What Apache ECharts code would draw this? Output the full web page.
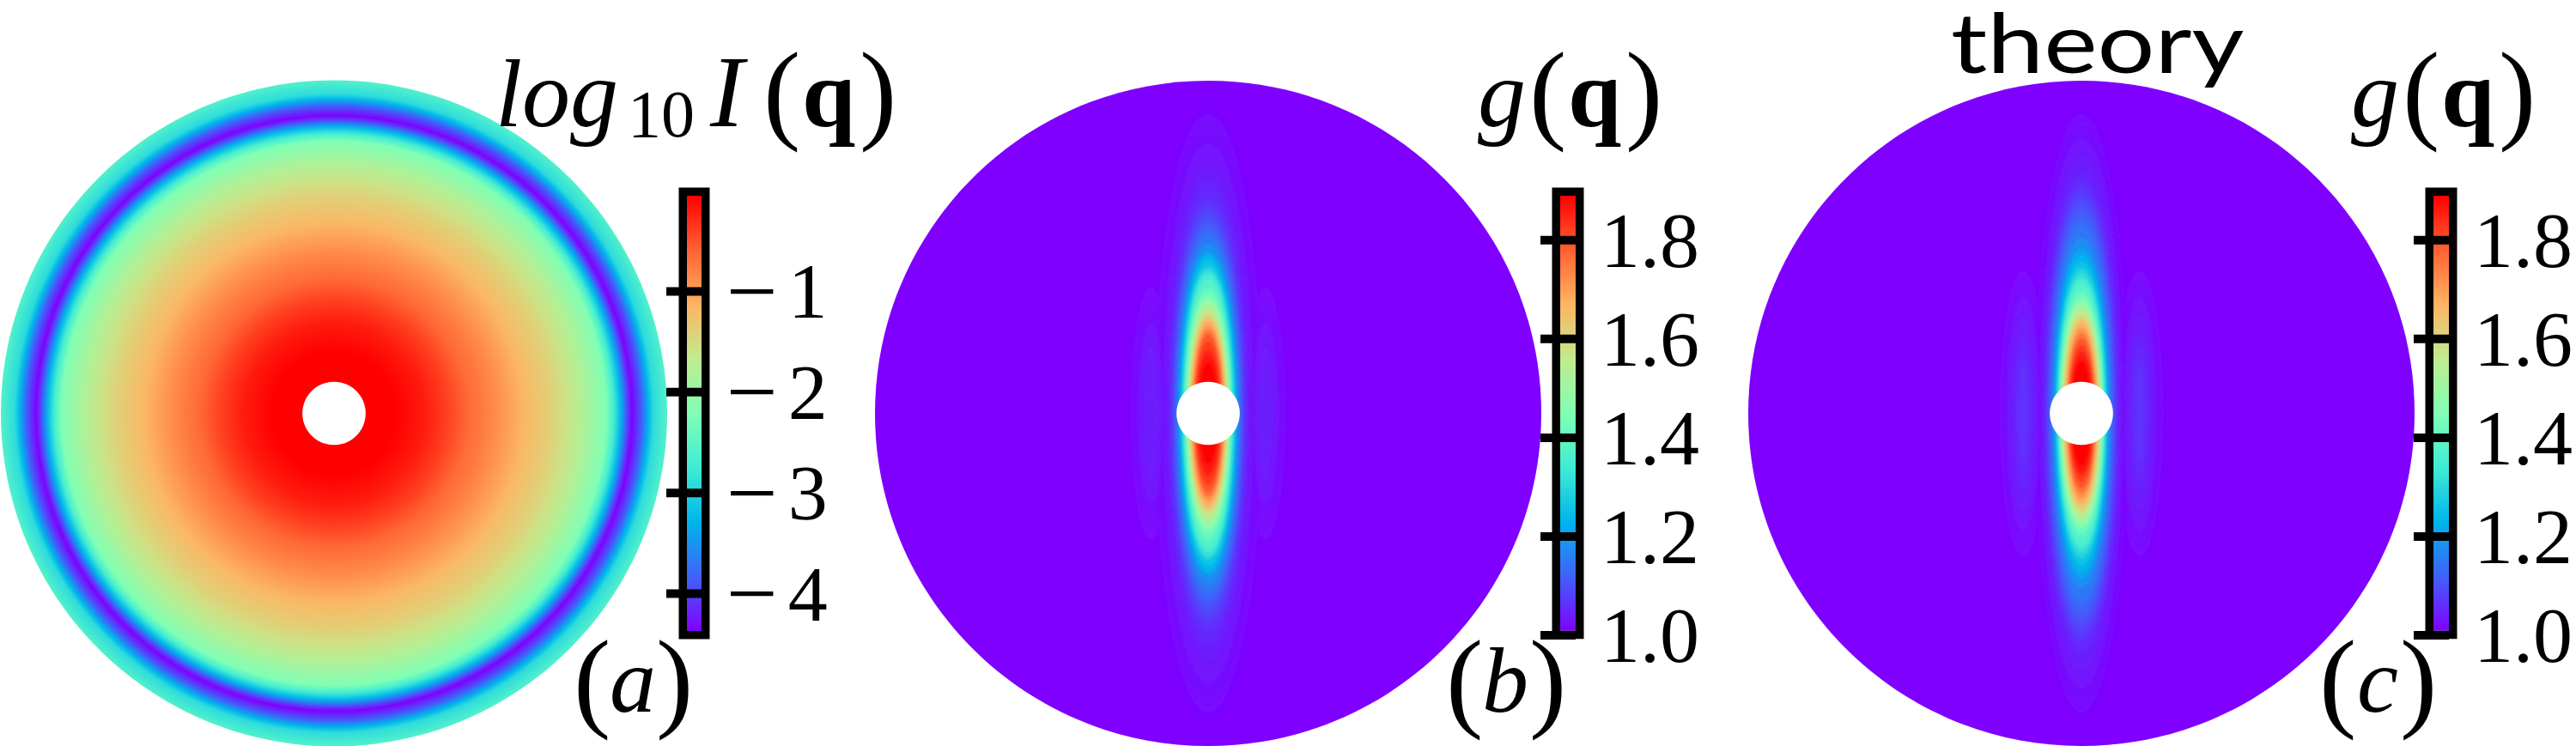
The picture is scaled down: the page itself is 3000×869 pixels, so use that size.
<!DOCTYPE html>
<html>
<head>
<meta charset="utf-8">
<script src="https://cdn.jsdelivr.net/npm/echarts@6/dist/echarts.min.js"></script>
<style>
  html, body { margin: 0; background: #fff; }
  #chart { width: 3000px; height: 869px; }
</style>
</head>
<body>
<div id="chart"></div>
<script>
// matplotlib rainbow
const rainbowStops = ['#8000ff', '#4062fa', '#00b4ec', '#40ecd4', '#80ffb4', '#c0ec8e', '#ffb462', '#ff6232', '#ff0000']

// panel (a): radial profile, q in units of the disc radius
const intensityQ = [0.095, 0.186, 0.271, 0.340, 0.399, 0.442, 0.487, 0.572, 0.649, 0.693, 0.745, 0.789, 0.817, 0.840, 0.861, 0.874, 0.894, 0.923, 0.943, 0.959, 1.000]
const intensityLog = [-0.05, -0.05, -0.20, -0.40, -0.62, -0.74, -0.87, -1.17, -1.39, -1.55, -1.78, -2.05, -2.21, -2.73, -3.29, -3.77, -4.37, -3.85, -3.29, -2.90, -2.60]

// panel (b): iso-g contours of the central streak (simulation)
const simG = [1.004, 1.007, 1.01, 1.0125, 1.015, 1.0175, 1.02, 1.025, 1.03, 1.035, 1.04, 1.045, 1.05, 1.06, 1.07, 1.08, 1.09, 1.10, 1.11, 1.125, 1.14, 1.17, 1.20, 1.225, 1.25, 1.28, 1.31, 1.34, 1.37, 1.41, 1.445, 1.475, 1.50, 1.53, 1.56, 1.59, 1.62, 1.65, 1.675, 1.71, 1.75, 1.79, 1.82, 1.85, 1.87, 1.89]
const simHalfWidth = [0.178, 0.168, 0.160, 0.150, 0.142, 0.138, 0.135, 0.130, 0.124, 0.120, 0.117, 0.114, 0.111, 0.107, 0.104, 0.101, 0.099, 0.097, 0.095, 0.093, 0.091, 0.087, 0.083, 0.080, 0.078, 0.075, 0.072, 0.070, 0.068, 0.065, 0.062, 0.060, 0.059, 0.056, 0.054, 0.052, 0.050, 0.048, 0.046, 0.044, 0.041, 0.039, 0.036, 0.032, 0.029, 0.026]
const simHalfHeight = [0.940, 0.920, 0.900, 0.875, 0.851, 0.830, 0.810, 0.770, 0.737, 0.718, 0.700, 0.680, 0.662, 0.640, 0.620, 0.605, 0.590, 0.575, 0.562, 0.548, 0.535, 0.510, 0.485, 0.474, 0.460, 0.440, 0.430, 0.418, 0.400, 0.375, 0.351, 0.342, 0.333, 0.322, 0.312, 0.300, 0.290, 0.282, 0.276, 0.262, 0.250, 0.237, 0.215, 0.190, 0.170, 0.149]
// faint side lobes of (b)
const simLobeG = [1.004, 1.008, 1.012, 1.016, 1.02, 1.025, 1.03, 1.035]
const simLobeOffset = [0.172, 0.172, 0.172, 0.172, 0.172, 0.172, 0.172, 0.172]
const simLobeHalfWidth = [0.070, 0.060, 0.052, 0.044, 0.038, 0.032, 0.024, 0.016]
const simLobeHalfHeight = [0.42, 0.38, 0.34, 0.30, 0.27, 0.24, 0.20, 0.15]

// panel (c): same contours for the theory
const theoryG = [1.004, 1.007, 1.01, 1.0125, 1.015, 1.0175, 1.02, 1.025, 1.03, 1.035, 1.04, 1.045, 1.05, 1.06, 1.07, 1.08, 1.09, 1.10, 1.11, 1.125, 1.14, 1.17, 1.20, 1.225, 1.25, 1.28, 1.31, 1.34, 1.37, 1.41, 1.445, 1.475, 1.50, 1.53, 1.56, 1.59, 1.62, 1.65, 1.675, 1.71, 1.75, 1.79, 1.82, 1.85, 1.87, 1.89]
const theoryHalfWidth = [0.155, 0.147, 0.140, 0.135, 0.130, 0.127, 0.124, 0.120, 0.116, 0.113, 0.110, 0.108, 0.106, 0.103, 0.100, 0.097, 0.095, 0.092, 0.090, 0.088, 0.086, 0.082, 0.078, 0.075, 0.073, 0.070, 0.068, 0.067, 0.065, 0.062, 0.059, 0.057, 0.056, 0.054, 0.052, 0.050, 0.048, 0.046, 0.044, 0.042, 0.039, 0.036, 0.033, 0.030, 0.028, 0.026]
const theoryHalfHeight = [0.940, 0.920, 0.900, 0.880, 0.860, 0.840, 0.825, 0.795, 0.770, 0.750, 0.725, 0.710, 0.698, 0.680, 0.660, 0.645, 0.630, 0.615, 0.600, 0.580, 0.560, 0.525, 0.495, 0.474, 0.455, 0.435, 0.420, 0.405, 0.388, 0.363, 0.343, 0.333, 0.325, 0.316, 0.307, 0.296, 0.285, 0.276, 0.268, 0.255, 0.240, 0.224, 0.205, 0.185, 0.170, 0.155]
const theoryLobeG = [1.004, 1.008, 1.012, 1.016, 1.02, 1.025, 1.03, 1.035, 1.04, 1.045, 1.05, 1.055]
const theoryLobeOffset = [0.175, 0.175, 0.175, 0.175, 0.175, 0.175, 0.175, 0.175, 0.175, 0.175, 0.175, 0.175]
const theoryLobeHalfWidth = [0.080, 0.070, 0.060, 0.054, 0.048, 0.042, 0.037, 0.032, 0.027, 0.022, 0.016, 0.010]
const theoryLobeHalfHeight = [0.46, 0.43, 0.40, 0.37, 0.35, 0.32, 0.29, 0.26, 0.23, 0.20, 0.17, 0.14]

const holeQ = 0.095

// colour bars
const logRange = [-4.37, -0.05]
const logBar = [-4.37, -0.05]
const logTicks = [-4, -3, -2, -1]
const gRange = [1.0, 1.89]
const gBar = [1.009, 1.89]
const gTicks = [1.0, 1.2, 1.4, 1.6, 1.8]

const SERIF = 'Liberation Serif'

function rainbow(v, range) {
  const t = (v - range[0]) / (range[1] - range[0])
  return echarts.color.lerp(Math.min(1, Math.max(0, t)), rainbowStops)
}

// ---- renderers ----
function renderRing(params, api) {
  const c = api.coord([0, 0])
  const rIn = api.size([api.value(0), 0])[0]
  const rOut = api.size([api.value(1), 0])[0]
  return {
    type: 'circle',
    shape: { cx: c[0], cy: c[1], r: rOut },
    style: {
      fill: new echarts.graphic.RadialGradient(c[0], c[1], rOut, [
        { offset: rIn / rOut, color: rainbow(api.value(2), logRange) },
        { offset: 1, color: rainbow(api.value(3), logRange) }
      ], true)
    }
  }
}

function renderContour(params, api) {
  const c = api.coord([api.value(0), 0])
  const g = api.value(3)
  const color = rainbow(g, gRange)
  return {
    type: 'ellipse',
    shape: {
      cx: c[0], cy: c[1],
      rx: api.size([api.value(1), 0])[0],
      ry: api.size([0, api.value(2)])[1]
    },
    // the disc itself keeps a clean edge
    style: g > gRange[0] ? { fill: color, shadowBlur: 5, shadowColor: color } : { fill: color }
  }
}

function renderHole(params, api) {
  const c = api.coord([0, 0])
  return {
    type: 'circle',
    shape: { cx: c[0], cy: c[1], r: api.size([api.value(0), 0])[0] },
    style: { fill: '#fff' }
  }
}

function renderBar(params, api) {
  const lo = api.coord([0, api.value(0)])
  const hi = api.coord([1, api.value(1)])
  const stroke = 9.5
  const pad = stroke / 2
  return {
    type: 'group',
    children: [{
      type: 'rect',
      shape: { x: lo[0], y: hi[1], width: hi[0] - lo[0], height: lo[1] - hi[1] },
      style: {
        fill: new echarts.graphic.LinearGradient(0, 1, 0, 0, rainbowStops.map((color, i) => ({
          offset: i / (rainbowStops.length - 1), color
        })))
      }
    }, {
      type: 'rect',
      shape: { x: lo[0] - pad, y: hi[1] - pad, width: hi[0] - lo[0] + stroke, height: lo[1] - hi[1] + stroke },
      style: { fill: 'none', stroke: '#000', lineWidth: stroke }
    }]
  }
}

// ticks cross the colour strip and stick out on its left
function renderTick(params, api) {
  const p = api.coord([1, api.value(0)])
  return {
    type: 'line',
    shape: { x1: p[0], y1: p[1], x2: p[0] - 41, y2: p[1] },
    style: { stroke: '#000', lineWidth: 10 }
  }
}

// ---- data rows ----
function ringRows() {
  const rows = []
  for (let i = intensityQ.length - 2; i >= 0; i--) {
    rows.push([intensityQ[i], intensityQ[i + 1], intensityLog[i], intensityLog[i + 1]])
  }
  return rows
}

function contourRows(g, w, h, lobeG, lobeOff, lobeW, lobeH) {
  const rows = [[0, 1, 1, gRange[0]]]
  lobeG.forEach((v, i) => {
    rows.push([-lobeOff[i], lobeW[i], lobeH[i], v])
    rows.push([lobeOff[i], lobeW[i], lobeH[i], v])
  })
  g.forEach((v, i) => rows.push([0, w[i], h[i], v]))
  // higher g on top, so the wide faint streak levels do not wipe the lobes
  return rows.sort((a, b) => a[3] - b[3])
}

// ---- layout ----
const grids = [], xAxes = [], yAxes = [], series = []

function addDisc(left, top, size, render, rows) {
  const idx = grids.length
  grids.push({ left, top, width: size, height: size })
  xAxes.push({ type: 'value', gridIndex: idx, min: -1, max: 1, show: false })
  yAxes.push({ type: 'value', gridIndex: idx, min: -1, max: 1, show: false })
  series.push({
    type: 'custom', xAxisIndex: idx, yAxisIndex: idx, clip: false, silent: true,
    renderItem: render, data: rows
  })
  series.push({
    type: 'custom', xAxisIndex: idx, yAxisIndex: idx, clip: false, silent: true,
    renderItem: renderHole, data: [[holeQ]]
  })
}

function addBar(left, width, height, range, bar, ticks, labelFn) {
  const idx = grids.length
  grids.push({ left, top: 228, width, height })
  xAxes.push({ type: 'value', gridIndex: idx, min: 0, max: 1, show: false })
  yAxes.push({
    type: 'value', gridIndex: idx, position: 'right', min: range[0], max: range[1],
    splitLine: { show: false },
    axisLine: { show: false },
    axisTick: { show: false },
    axisLabel: {
      show: true, customValues: ticks, margin: 29, align: 'left', color: '#000',
      fontFamily: SERIF, fontSize: 92, lineHeight: 100, formatter: labelFn,
      rich: {
        m: { fontFamily: SERIF, fontSize: 106, lineHeight: 100, color: '#000', padding: [0, 12, 0, 0] },
        d: { fontFamily: SERIF, fontSize: 92, lineHeight: 100, color: '#000' }
      }
    }
  })
  series.push({
    type: 'custom', xAxisIndex: idx, yAxisIndex: idx, clip: false, silent: true,
    renderItem: renderBar, data: [bar]
  })
  series.push({
    type: 'custom', xAxisIndex: idx, yAxisIndex: idx, clip: false, silent: true, z: 3,
    renderItem: renderTick, data: ticks.map(v => [v])
  })
}

addDisc(1, 94, 776, renderRing, ringRows())
addDisc(1019, 94, 776, renderContour,
  contourRows(simG, simHalfWidth, simHalfHeight, simLobeG, simLobeOffset, simLobeHalfWidth, simLobeHalfHeight))
addDisc(2036, 94, 776, renderContour,
  contourRows(theoryG, theoryHalfWidth, theoryHalfHeight, theoryLobeG, theoryLobeOffset, theoryLobeHalfWidth, theoryLobeHalfHeight))

const logLabel = v => '{m|\u2212}{d|' + Math.abs(v) + '}'
const gLabel = v => v.toFixed(1)
addBar(800, 17, 507, logRange, logBar, logTicks, logLabel)
addBar(1817, 18, 512, gRange, gBar, gTicks, gLabel)
addBar(2834, 18, 512, gRange, gBar, gTicks, gLabel)

// ---- math labels, placed piece by piece ----
function label(text, x, y, size, extra, elementExtra) {
  return Object.assign({
    type: 'text', x, y, z: 10, silent: true,
    style: Object.assign({
      text, fill: '#000', fontFamily: SERIF, fontSize: size, verticalAlign: 'middle', align: 'left'
    }, extra || {})
  }, elementExtra || {})
}
const italic = { fontStyle: 'italic' }
const bold = { fontWeight: 'bold' }

function gOfQ(dx) {
  return [
    label('g', 1721 + dx, 109, 112, italic),
    label('(', 1781 + dx, 106, 130),
    label('q', 1826 + dx, 109, 112, bold),
    label(')', 1893 + dx, 106, 130)
  ]
}
function panelTag(letter, xOpen, xLetter, xClose) {
  return [
    label('(', xOpen, 791, 130),
    label(letter, xLetter, 792, 108, italic),
    label(')', xClose, 791, 130)
  ]
}

const texts = [
  label('log', 577, 109, 112, italic),
  label('10', 731, 132, 78),
  label('I', 827, 107, 118, italic),
  label('(', 889, 106, 130),
  label('q', 934, 109, 112, bold),
  label(')', 1001, 106, 130),
  ...gOfQ(0),
  ...gOfQ(1017),
  label('theory', 2272, 48, 96, { fontFamily: 'Lato' }, { scaleX: 1.23 }),
  ...panelTag('a', 668, 710, 764),
  ...panelTag('b', 1684, 1726, 1781),
  ...panelTag('c', 2701, 2745, 2795)
]

// svg renderer: the canvas one did not pick up the serif family next to the custom series
const chart = echarts.init(document.getElementById('chart'), null, { renderer: 'svg' })
chart.setOption({
  animation: false,
  backgroundColor: '#fff',
  grid: grids,
  xAxis: xAxes,
  yAxis: yAxes,
  series,
  graphic: { elements: texts }
})
</script>
</body>
</html>
